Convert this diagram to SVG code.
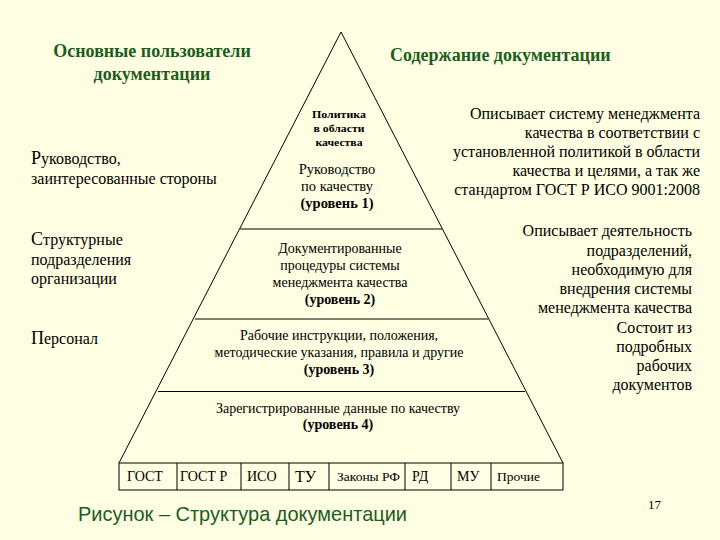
<svg xmlns="http://www.w3.org/2000/svg" width="720" height="540" viewBox="0 0 720 540">
<style>
.s{font-family:'Liberation Serif','Times New Roman',serif;fill:#000}
.h{font-family:'Liberation Serif','Times New Roman',serif;font-weight:bold;font-size:18px;fill:#1d5c1d}
.b{font-weight:bold}
.ln{stroke:#000;stroke-width:1;fill:none}
.m{text-anchor:middle}
.r{text-anchor:end}
</style>
<rect width="720" height="540" fill="#fefee2"/>
<g id="connectors">
<path class="ln" d="M119,463 L341,32 L563,463"/>
<line class="ln" x1="240" y1="229" x2="442" y2="229"/>
<line class="ln" x1="195" y1="319" x2="488" y2="319"/>
<line class="ln" x1="158" y1="391.5" x2="525" y2="391.5"/>
</g>
<g id="heading-users">
<text class="h m" x="152" y="57">Основные пользователи</text>
<text class="h m" x="152" y="80">документации</text>
</g>
<g id="heading-content">
<text class="h" x="390" y="61">Содержание документации</text>
</g>
<g id="users-management" class="s" font-size="16">
<text x="31" y="164"><tspan font-size="18">Р</tspan>уководство,</text>
<text x="31" y="184">заинтересованные стороны</text>
</g>
<g id="users-departments" class="s" font-size="16">
<text x="31" y="245"><tspan font-size="18">С</tspan>труктурные</text>
<text x="31" y="265">подразделения</text>
<text x="31" y="284">организации</text>
</g>
<g id="users-staff" class="s" font-size="16">
<text x="31" y="344"><tspan font-size="18">П</tspan>ерсонал</text>
</g>
<g id="level-1" class="s m">
<text x="339" y="118" font-size="11" class="b" textLength="54" lengthAdjust="spacingAndGlyphs">Политика</text>
<text x="339" y="132" font-size="11" class="b" textLength="51" lengthAdjust="spacingAndGlyphs">в области</text>
<text x="339" y="146" font-size="11" class="b" textLength="47" lengthAdjust="spacingAndGlyphs">качества</text>
<text x="337" y="174" font-size="14.5">Руководство</text>
<text x="337" y="191" font-size="14.5">по качеству</text>
<text x="337" y="208" font-size="14.5" class="b">(уровень 1)</text>
</g>
<g id="level-2" class="s m" font-size="14">
<text x="340" y="253">Документированные</text>
<text x="340" y="270">процедуры системы</text>
<text x="340" y="287">менеджмента качества</text>
<text x="340" y="304" class="b">(уровень 2)</text>
</g>
<g id="level-3" class="s m" font-size="14">
<text x="339" y="340">Рабочие инструкции, положения,</text>
<text x="339" y="357">методические указания, правила и другие</text>
<text x="339" y="374" class="b">(уровень 3)</text>
</g>
<g id="level-4" class="s m" font-size="14">
<text x="338" y="413">Зарегистрированные данные по качеству</text>
<text x="338" y="429" class="b">(уровень 4)</text>
</g>
<g id="sources">
<rect class="ln" x="119" y="463" width="444" height="27"/>
<line class="ln" x1="177" y1="463" x2="177" y2="490"/>
<line class="ln" x1="241" y1="463" x2="241" y2="490"/>
<line class="ln" x1="289" y1="463" x2="289" y2="490"/>
<line class="ln" x1="329" y1="463" x2="329" y2="490"/>
<line class="ln" x1="405" y1="463" x2="405" y2="490"/>
<line class="ln" x1="451" y1="463" x2="451" y2="490"/>
<line class="ln" x1="491" y1="463" x2="491" y2="490"/>
<g class="s" font-size="14">
<text x="127" y="481">ГОСТ</text>
<text x="180" y="481">ГОСТ Р</text>
<text x="247" y="481">ИСО</text>
<text x="295" y="482" font-size="16">ТУ</text>
<text x="337" y="481" font-size="13.5">Законы РФ</text>
<text x="412" y="481">РД</text>
<text x="457" y="481">МУ</text>
<text x="497" y="481" font-size="13.5">Прочие</text>
</g>
</g>
<g id="desc-1" class="s r" font-size="16">
<text x="700" y="119">Описывает систему менеджмента</text>
<text x="700" y="138">качества в соответствии с</text>
<text x="700" y="157">установленной политикой в области</text>
<text x="700" y="176">качества и целями, а так же</text>
<text x="700" y="195">стандартом ГОСТ Р ИСО 9001:2008</text>
</g>
<g id="desc-2" class="s r" font-size="16">
<text x="692" y="236">Описывает деятельность</text>
<text x="692" y="256">подразделений,</text>
<text x="692" y="275">необходимую для</text>
<text x="692" y="294">внедрения системы</text>
<text x="692" y="313">менеджмента качества</text>
</g>
<g id="desc-3" class="s r" font-size="16">
<text x="692" y="333">Состоит из</text>
<text x="692" y="352">подробных</text>
<text x="692" y="371">рабочих</text>
<text x="692" y="390">документов</text>
</g>
<text x="78" y="521" font-family="'Liberation Sans Narrow','Liberation Sans',Arial,sans-serif" font-size="21" fill="#1d5c1d" textLength="329" lengthAdjust="spacingAndGlyphs">Рисунок – Структура документации</text>
<text x="648" y="509" class="s" font-size="13">17</text>
</svg>
